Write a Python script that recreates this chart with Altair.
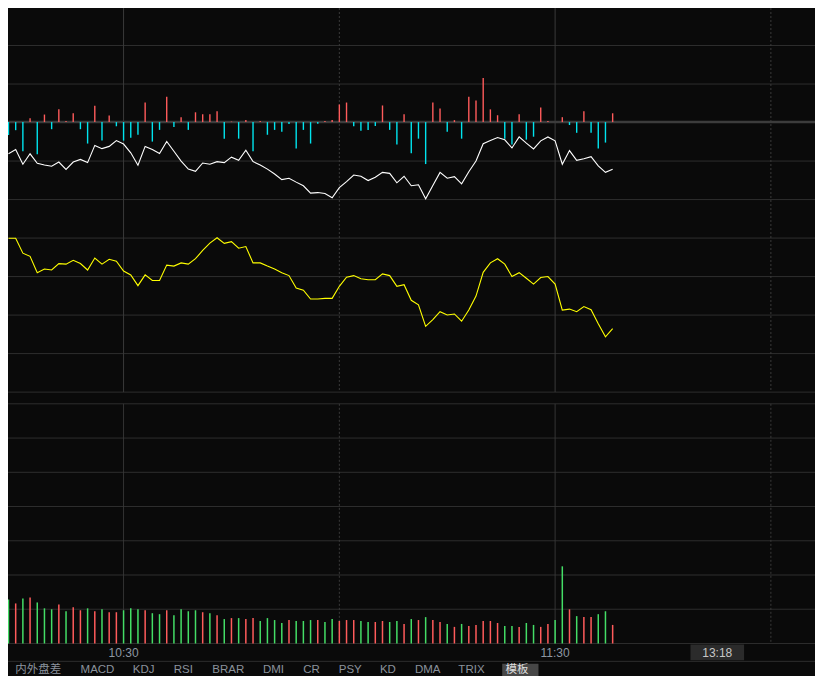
import altair as alt
import pandas as pd

# ---------------- data ----------------
# net inflow bars per minute (up = red, down = cyan)
flow = [-13.3, -8.3, -30, 4, -33, 7.7, -7.3, 13, 1, 9,
        -7.3, -22, 16.7, -19, 6.7, -4.3, -19, -16, -13, 20,
        -20, -8, 26, -5, 5, -8, 10, 8, 8, 11,
        -17, 0.5, -17, 2, -30, 1, -13, -8, -10, -2,
        -27, -8, -22, -1.7, 1, 2, 18, 20, -4.3, -9,
        -8, -4, 17, -8, -23, 8, -32, -17, -43, 20,
        14, -10, 2, -17, 26, 22, 45, 13, 7, -17,
        -23, 8, -18, -15, 15, 1, 0, 5, -3, -11,
        11, -11, -27, -21, 9]

# white indicator line
white = [50.7, 55, 40, 50.7, 41, 39.3, 38, 42.3, 34.7, 42.3,
         45, 41.7, 59.3, 56, 58.3, 64.3, 60.7, 51.7, 39, 58.3,
         55, 51, 63.3, 53.3, 43.3, 35, 32.7, 41.3, 40, 42.7,
         41.7, 47.3, 44, 54.3, 42.7, 39.3, 35, 30, 24.3, 25.7,
         21.7, 18, 10.5, 11, 10, 5.7, 16, 22.3, 29, 27.7,
         23.3, 26.7, 31.7, 30.7, 21, 27.7, 18, 19, 4.7, 18.3,
         31.7, 25.7, 27.3, 20, 32.3, 43.3, 61, 64.3, 67.3, 65,
         56.7, 68, 61.7, 55.7, 64, 68, 64, 40, 54, 44,
         45.7, 47.7, 38.3, 31.7, 35]

# yellow price line
yellow = [114.3, 114.3, 99, 95.7, 79, 82.7, 81.7, 88.3, 87.7, 91.7,
          88.3, 81.7, 94, 87.7, 92.7, 90.7, 80.7, 76.7, 65.7, 76.7,
          71, 71, 86.7, 85.7, 89, 87.7, 93.3, 101.7, 109.3, 114.7,
          109, 110.7, 104, 105.7, 89, 89, 85.7, 82.7, 79, 76,
          63.3, 61, 52, 52, 52.7, 52.7, 65, 74.3, 76, 72.7,
          71.7, 71.7, 77.7, 76, 65, 66.7, 50.7, 46, 24, 31,
          39, 35.7, 36.7, 29.3, 40.7, 55, 79.3, 89, 93.3, 87.7,
          75, 79, 73.3, 67.3, 74, 75, 67.3, 40.7, 41.7, 39,
          44.3, 41, 26.7, 13.3, 21.7]

# volume per minute and its direction (r = up, g = down)
volume = [45, 41, 46, 47, 42, 36, 35, 40, 33, 37,
          34, 36, 33, 35, 32, 32, 34, 36, 35, 34,
          31, 30, 34, 29, 35, 33, 34, 32, 31, 29,
          25, 26, 26, 25, 26, 23, 26, 24, 21, 24,
          23, 23, 24, 24, 22, 25, 23, 24, 24, 23,
          22, 22, 23, 22, 23, 20, 25, 24, 27, 24,
          22, 20, 17, 20, 18, 19, 23, 23, 21, 18,
          18, 17, 21, 19, 17, 20, 24, 79, 35, 28,
          27, 27, 30, 33, 19]
vol_dir = list("grgrgggrgr" "rgrgrrgggr" "ggrggggrgr" "grgrrggggr"
               "gggrggrrrg" "grrggrgrgr" "rgrgrrrrrg" "grggrrggrg" "rrggr")

# time ticks (minute index) and labels
tick_idx = [16, 46, 76, 106]
tick_lab = ["10:30", "11:00", "11:30", "13:30"]
tick_kind = ["solid", "dot", "solid", "dot"]
shown_labels = ["10:30", "11:30"]
cursor_label = "13:18"

tabs = ["内外盘差", "MACD", "KDJ", "RSI", "BRAR", "DMI", "CR", "PSY", "KD", "DMA", "TRIX", "模板"]
active_tab = "模板"

# ---------------- layout / style ----------------
W, H = 807, 668
sx, sy = W / 823, H / 684
STEP, X0 = 7.335, 0.5
xdom = [-X0 / STEP, (823 - X0) / STEP]

BG = "#0a0a0a"
GRID = "#2e2e2e"
VLINE = "#3a3a3a"
RED = "#ff5b5b"
CYAN = "#00e4ee"
GREEN = "#44dd66"
LABEL = "#8d97a3"
FONT = "Liberation Sans, Noto Sans CJK SC, sans-serif"
tab_left = [7.3, 74, 127.3, 169, 208.3, 260, 301, 337.3, 379.3, 415, 459.3, 507.3]

n = len(flow)
df = pd.DataFrame({
    "i": list(range(n)),
    "flow": flow,
    "white": white,
    "yellow": yellow,
    "vol": volume,
    "vdir": vol_dir,
})
df["fdir"] = ["up" if v >= 0 else "down" for v in flow]
df["zero"] = 0.0

ticks = pd.DataFrame({"i": tick_idx, "label": tick_lab, "kind": tick_kind})
one = pd.DataFrame({"a": [0]})

X = alt.X("i:Q", scale=alt.Scale(domain=xdom, nice=False, zero=False), axis=None)


def ysc(domain, rng):
    return alt.Scale(domain=domain, range=[r * sy for r in rng], nice=False, zero=False)


layers = []

# horizontal grid - top panel
top_grid = pd.DataFrame({"lvl": list(range(0, 10))})
layers.append(alt.Chart(top_grid).mark_rule(color=GRID, strokeWidth=1).encode(
    y=alt.Y("lvl:Q", scale=ysc([0, 10], [393.3, -1]), axis=None)))
# horizontal grid - volume panel
vol_grid = pd.DataFrame({"lvl": list(range(0, 8))})
layers.append(alt.Chart(vol_grid).mark_rule(color=GRID, strokeWidth=1).encode(
    y=alt.Y("lvl:Q", scale=ysc([0, 7], [650.7, 405.3]), axis=None)))
# line under the time axis
layers.append(alt.Chart(one).mark_rule(color=GRID, strokeWidth=1).encode(
    x=alt.value(0), x2=alt.value(W), y=alt.value(669 * sy)))

# vertical time lines in both panels
for y0, y1 in [(0, 393.3), (405.3, 650.7)]:
    layers.append(alt.Chart(ticks).mark_rule(color=VLINE, strokeWidth=1).encode(
        x=X, y=alt.value(y0 * sy), y2=alt.value(y1 * sy),
        strokeDash=alt.StrokeDash("kind:N", scale=alt.Scale(domain=["solid", "dot"], range=[[1, 0], [2, 2]]),
                                  legend=None)))

flow_scale = ysc([0, 50], [116.8, 66.8])
# baseline of flow bars
layers.append(alt.Chart(one).mark_rule(color="#3c3c3c", strokeWidth=2.5).encode(
    y=alt.Y("a:Q", scale=flow_scale, axis=None)))
# flow bars
layers.append(alt.Chart(df).mark_rule(strokeWidth=1.4).encode(
    x=X,
    y=alt.Y("zero:Q", scale=flow_scale, axis=None),
    y2="flow:Q",
    color=alt.Color("fdir:N", scale=alt.Scale(domain=["up", "down"], range=[RED, CYAN]), legend=None)))

# white line
layers.append(alt.Chart(df).mark_line(color="#ffffff", strokeWidth=1.1).encode(
    x=X, y=alt.Y("white:Q", scale=ysc([0, 100], [200, 100]), axis=None)))
# yellow line
layers.append(alt.Chart(df).mark_line(color="#ffff00", strokeWidth=1.1).encode(
    x=X, y=alt.Y("yellow:Q", scale=ysc([0, 100], [350, 250]), axis=None)))

# volume bars
vol_scale = ysc([0, 100], [650.7, 550.7])
layers.append(alt.Chart(df).mark_rule(strokeWidth=1.5).encode(
    x=X,
    y=alt.Y("zero:Q", scale=vol_scale, axis=None),
    y2="vol:Q",
    color=alt.Color("vdir:N", scale=alt.Scale(domain=["r", "g"], range=[RED, GREEN]), legend=None)))

# time labels
layers.append(alt.Chart(ticks).transform_filter(
    alt.FieldOneOfPredicate(field="label", oneOf=shown_labels)
).mark_text(font=FONT, fontSize=12, color=LABEL, baseline="middle", align="center").encode(
    x=X, y=alt.value(660 * sy), text="label:N"))

# cursor time box
layers.append(alt.Chart(one).mark_rect(color="#2b2b2b").encode(
    x=alt.value(696 * sx), x2=alt.value(750.7 * sx), y=alt.value(651.7 * sy), y2=alt.value(668 * sy)))
layers.append(alt.Chart(one).mark_text(font=FONT, fontSize=12, color="#c6c6c6", baseline="middle",
                                       align="center", text=cursor_label).encode(
    x=alt.value(723.3 * sx), y=alt.value(660 * sy)))

# tab bar
layers.append(alt.Chart(one).mark_rect(color="#474747").encode(
    x=alt.value(504 * sx), x2=alt.value(541 * sx), y=alt.value(671.5 * sy), y2=alt.value(H)))
for lab, lx in zip(tabs, tab_left):
    col = "#dedede" if lab == active_tab else "#8a929c"
    layers.append(alt.Chart(one).mark_text(font=FONT, fontSize=11.5, color=col, baseline="alphabetic",
                                           align="left", text=lab).encode(
        x=alt.value(lx * sx), y=alt.value(H - 3)))

chart = alt.layer(*layers).resolve_scale(
    y="independent", color="independent", strokeDash="independent"
).properties(
    width=W, height=H, background=BG, padding=0,
    autosize=alt.AutoSizeParams(type="none"),
).configure_view(stroke=None)

chart.save("out.html", embed_options={"renderer": "svg", "actions": False})
